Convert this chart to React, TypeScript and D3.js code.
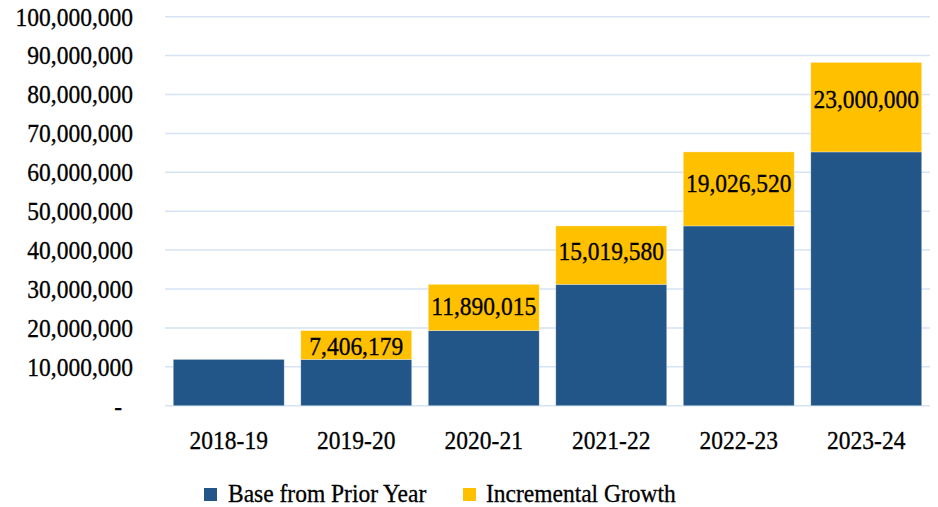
import React from "react";
import * as d3 from "d3";

const categories = ["2018-19", "2019-20", "2020-21", "2021-22", "2022-23", "2023-24"];
const baseValues = [11900000, 11900000, 19306179, 31196194, 46215774, 65242294];
const growthValues = [0, 7406179, 11890015, 15019580, 19026520, 23000000];
const yTicks = [0, 10000000, 20000000, 30000000, 40000000, 50000000, 60000000, 70000000, 80000000, 90000000, 100000000];
const seriesNames = ["Base from Prior Year", "Incremental Growth"];

const W = 938;
const H = 507;
const BLUE = "#225689";
const YELLOW = "#FFC000";
const GRID = "#D6E3F3";
const FONT = "'Liberation Serif', Tinos, 'Times New Roman', serif";

type TProps = { x: number; y: number; anchor?: "start" | "middle" | "end"; sy?: number; children: React.ReactNode };
function T({ x, y, anchor = "start", sy = 1.1, children }: TProps) {
  return (
    <text
      transform={`translate(${x},${y}) scale(1,${sy})`}
      textAnchor={anchor}
      dominantBaseline="central"
      style={{ fontFamily: FONT, fontSize: 23.5 }}
      fill="#000"
      stroke="#000"
      strokeWidth={0.3}
    >
      {children}
    </text>
  );
}

export default function App() {
  const x = d3.scaleBand<string>().domain(categories).range([165, 930]).paddingInner(0.13).paddingOuter(0.065);
  const y = d3.scaleLinear().domain([0, 100000000]).range([405.7, 16.7]);
  const fmt = d3.format(",");

  return (
    <svg width={W} height={H} style={{ position: "absolute", left: 0, top: 0 }}>
      <rect width={W} height={H} fill="#fff" />
      {yTicks.map((t) => (
        <g key={t}>
          <line x1={165} x2={930} y1={y(t)} y2={y(t)} stroke={GRID} strokeWidth={1.5} />
          <T x={t === 0 ? 122 : 133} y={y(t)} anchor="end">
            {t === 0 ? "-" : fmt(t)}
          </T>
        </g>
      ))}
      {categories.map((c, i) => {
        const x0 = x(c)!;
        const bw = x.bandwidth();
        const b = baseValues[i];
        const g = growthValues[i];
        const segH = y(b) - y(b + g);
        const off = 0.8 - 0.15 * (segH - 28.6);
        return (
          <g key={c}>
            <rect x={x0} y={y(b)} width={bw} height={y(0) - y(b)} fill={BLUE} stroke="#ffffff" strokeOpacity={0.4} strokeWidth={0.75} />
            {g > 0 && (
              <rect x={x0} y={y(b + g)} width={bw} height={segH} fill={YELLOW} stroke="#ffffff" strokeOpacity={0.4} strokeWidth={0.75} />
            )}
            {g > 0 && (
              <T x={x0 + bw / 2} y={(y(b) + y(b + g)) / 2 + off} anchor="middle">
                {fmt(g)}
              </T>
            )}
            <T x={x0 + bw / 2} y={440} anchor="middle">
              {c}
            </T>
          </g>
        );
      })}
      <g>
        <rect x={204} y={488} width={13} height={13} fill={BLUE} />
        <T x={228} y={494} sy={1.05}>{seriesNames[0]}</T>
        <rect x={463} y={488} width={13} height={13} fill={YELLOW} />
        <T x={486} y={494} sy={1.05}>{seriesNames[1]}</T>
      </g>
    </svg>
  );
}
